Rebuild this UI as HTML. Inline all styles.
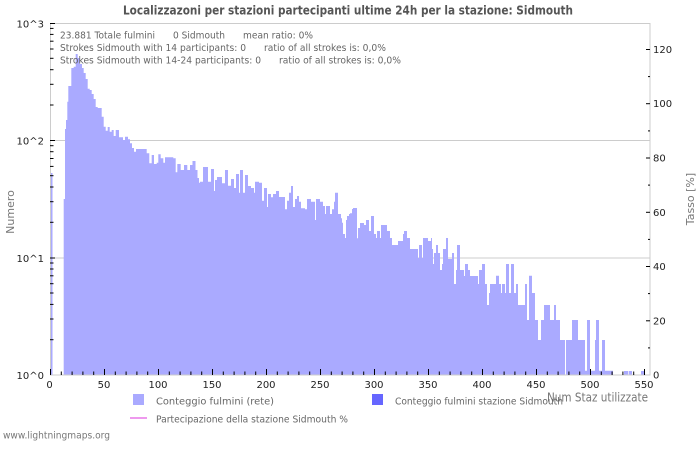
<!DOCTYPE html>
<html>
<head>
<meta charset="utf-8">
<style>
html,body{margin:0;padding:0;background:#fff;}
svg{display:block;}
text{font-family:"DejaVu Sans","Liberation Sans",sans-serif;}
</style>
</head>
<body>
<svg width="700" height="450" viewBox="0 0 700 450" xmlns="http://www.w3.org/2000/svg">
<rect x="0" y="0" width="700" height="450" fill="#fff"/>
<!-- title -->
<text x="348" y="14.5" font-size="12.5" font-weight="bold" fill="#555" text-anchor="middle" textLength="450" lengthAdjust="spacingAndGlyphs">Localizzazoni per stazioni partecipanti ultime 24h per la stazione: Sidmouth</text>

<!-- gridlines -->
<line x1="50" y1="140.5" x2="650" y2="140.5" stroke="#ccc" stroke-width="1"/>
<line x1="50" y1="258" x2="650" y2="258" stroke="#ccc" stroke-width="1"/>

<!-- bars -->
<path fill="#aaaaff" d="M50,375 V173 H52.5 V375 Z
M63.7,375 V199 H65 V129 H66 V120 H67.3 V101.7 H68.3 V86 H71.3 V68 H73.7 V66.7 H75.7 V54 H77.7 V58 H79.7 V64 H82 V68 H83.7 V73 H85.7 V79 H87.7 V88.7 H89.7 V90 H91.7 V94 H93.7 V99 H95.7 V107 H97.7 V108 H101.7 V116.7 H103.7 V126.7 H105.7 V130.7 H107.7 V127 H109.7 V131.7 H111.7 V130 H113.7 V136 H115.7 V130 H119 V137.3 H123 V140 H125 V136.7 H128 V139.3 H130 V143.3 H132 V148 H134 V151.7 H136 V149 H146.7 V153.3 H149.3 V163.3 H151.7 V155 H154 V164 H156.7 V162.7 H158.3 V154.3 H160.7 V158.3 H163.3 V162.7 H165 V157.3 H173.3 V158.3 H175.7 V172.3 H177.3 V164 H180.7 V170 H184 V165 H187.3 V170 H190 V165 H192.5 V161 H195.5 V170 H197.5 V178 H199 V182.7 H200 V181.7 H203 V167 H208 V181.7 H211 V169 H214 V191 H215 V180 H217 V177 H222 V183.3 H225 V170 H228 V185.7 H231 V179 H234 V188 H236 V174 H239 V192.7 H240 V170 H243 V192.7 H245 V175 H248 V186 H251 V188 H254 V192.7 H255 V181.7 H259 V182.7 H262 V200.7 H264 V188 H267 V207 H268 V194 H271 V197.3 H273 V194 H276 V191 H279 V197 H285 V209.3 H287 V200.7 H289 V192.7 H291 V186 H293 V207 H295 V199 H297 V196 H299 V201.7 H301 V208.3 H305 V209.3 H307 V199 H311 V201.7 H315 V220 H316 V199 H320 V201.7 H323 V206 H325 V214 H326 V206 H330 V214 H332 V209.3 H334 V201.7 H335 V192.7 H338 V214 H341 V218.3 H342 V222.7 H343 V234 H345 V238 H346 V220 H347 V216 H349 V214 H350 V213.3 H352 V209 H353 V208 H357 V238.3 H358 V228 H360 V223 H364 V225 H366 V220 H369 V231 H371 V216 H374 V234 H376 V238 H377 V231 H380 V238 H381 V225 H387 V231 H390 V238 H392 V245 H398 V241 H403 V234 H404 V231 H407 V238 H410 V249 H418 V258 H419 V245 H422 V258 H423 V238 H428 V241 H431 V238 H432 V249 H433 V264 H434 V253 H436 V245 H438 V253 H440 V270 H442 V264 H443 V249 H446 V238 H448 V259 H452 V253 H454 V284 H456 V270 H457 V245 H460 V270 H464 V276 H465 V264 H468 V270 H470 V276 H478 V284 H479 V270 H482 V264 H485 V284 H487 V305 H489 V293 H490 V284 H496 V275.7 H499 V284 H501 V293 H502 V284 H505 V293 H506 V264 H509 V293 H511 V264 H514 V293 H516 V284 H518 V305 H525 V284 H527 V320 H529 V275.7 H532 V293 H535 V320 H538 V340 H541 V320 H544 V305 H550 V320 H554 V305 H556 V320 H560 V340 H565 V375 H566 V340 H572 V320 H578 V340 H585 V370.7 H587 V320 H590 V370.7 H595 V340 H596 V320 H599 V370.7 H602 V340 H605 V370.7 H613 V375 Z
M624,375 V371 H628 V375 Z M628.7,375 V371 H632 V375 Z M641,375 V371 H644 V375 Z"/>

<!-- plot border -->
<rect x="50.5" y="23.5" width="599.5" height="351.5" fill="none" stroke="#ccc" stroke-width="1"/>

<!-- left axis ticks -->
<g stroke="#000" stroke-width="1">
<line x1="50" y1="23.5" x2="55" y2="23.5"/>
<line x1="50" y1="140.5" x2="55" y2="140.5"/>
<line x1="50" y1="258" x2="55" y2="258"/>
<line x1="50" y1="28.4" x2="53.5" y2="28.4"/><line x1="50" y1="34.4" x2="53.5" y2="34.4"/><line x1="50" y1="41.2" x2="53.5" y2="41.2"/><line x1="50" y1="49" x2="53.5" y2="49"/><line x1="50" y1="58.3" x2="53.5" y2="58.3"/><line x1="50" y1="69.7" x2="53.5" y2="69.7"/><line x1="50" y1="84.3" x2="53.5" y2="84.3"/><line x1="50" y1="105" x2="53.5" y2="105"/>
<line x1="50" y1="145.7" x2="53.5" y2="145.7"/><line x1="50" y1="151.7" x2="53.5" y2="151.7"/><line x1="50" y1="158.5" x2="53.5" y2="158.5"/><line x1="50" y1="166.4" x2="53.5" y2="166.4"/><line x1="50" y1="175.7" x2="53.5" y2="175.7"/><line x1="50" y1="187" x2="53.5" y2="187"/><line x1="50" y1="201.7" x2="53.5" y2="201.7"/><line x1="50" y1="222.3" x2="53.5" y2="222.3"/>
<line x1="50" y1="263" x2="53.5" y2="263"/><line x1="50" y1="269" x2="53.5" y2="269"/><line x1="50" y1="275.8" x2="53.5" y2="275.8"/><line x1="50" y1="283.7" x2="53.5" y2="283.7"/><line x1="50" y1="293" x2="53.5" y2="293"/><line x1="50" y1="304.4" x2="53.5" y2="304.4"/><line x1="50" y1="319" x2="53.5" y2="319"/><line x1="50" y1="339.7" x2="53.5" y2="339.7"/>
</g>

<!-- right axis ticks -->
<g stroke="#000" stroke-width="1">
<line x1="646" y1="49.5" x2="650" y2="49.5"/><line x1="648" y1="76.6" x2="650" y2="76.6"/>
<line x1="646" y1="103.7" x2="650" y2="103.7"/><line x1="648" y1="130.9" x2="650" y2="130.9"/>
<line x1="646" y1="158" x2="650" y2="158"/><line x1="648" y1="185.1" x2="650" y2="185.1"/>
<line x1="646" y1="212.3" x2="650" y2="212.3"/><line x1="648" y1="239.4" x2="650" y2="239.4"/>
<line x1="646" y1="266.5" x2="650" y2="266.5"/><line x1="648" y1="293.6" x2="650" y2="293.6"/>
<line x1="646" y1="320.8" x2="650" y2="320.8"/><line x1="648" y1="347.9" x2="650" y2="347.9"/>
</g>

<!-- bottom axis ticks -->
<g stroke="#000" stroke-width="1">
<line x1="50.5" y1="369" x2="50.5" y2="375"/>
<line x1="104.5" y1="369" x2="104.5" y2="375"/>
<line x1="158.5" y1="369" x2="158.5" y2="375"/>
<line x1="212.5" y1="369" x2="212.5" y2="375"/>
<line x1="266.5" y1="369" x2="266.5" y2="375"/>
<line x1="320.5" y1="369" x2="320.5" y2="375"/>
<line x1="374.5" y1="369" x2="374.5" y2="375"/>
<line x1="428.5" y1="369" x2="428.5" y2="375"/>
<line x1="482.5" y1="369" x2="482.5" y2="375"/>
<line x1="536.5" y1="369" x2="536.5" y2="375"/>
<line x1="590.5" y1="369" x2="590.5" y2="375"/>
<line x1="644.5" y1="369" x2="644.5" y2="375"/>
<line x1="61.3" y1="371.5" x2="61.3" y2="375"/><line x1="72.1" y1="371.5" x2="72.1" y2="375"/><line x1="82.9" y1="371.5" x2="82.9" y2="375"/><line x1="93.7" y1="371.5" x2="93.7" y2="375"/>
<line x1="115.3" y1="371.5" x2="115.3" y2="375"/><line x1="126.1" y1="371.5" x2="126.1" y2="375"/><line x1="136.9" y1="371.5" x2="136.9" y2="375"/><line x1="147.7" y1="371.5" x2="147.7" y2="375"/>
<line x1="169.3" y1="371.5" x2="169.3" y2="375"/><line x1="180.1" y1="371.5" x2="180.1" y2="375"/><line x1="190.9" y1="371.5" x2="190.9" y2="375"/><line x1="201.7" y1="371.5" x2="201.7" y2="375"/>
<line x1="223.3" y1="371.5" x2="223.3" y2="375"/><line x1="234.1" y1="371.5" x2="234.1" y2="375"/><line x1="244.9" y1="371.5" x2="244.9" y2="375"/><line x1="255.7" y1="371.5" x2="255.7" y2="375"/>
<line x1="277.3" y1="371.5" x2="277.3" y2="375"/><line x1="288.1" y1="371.5" x2="288.1" y2="375"/><line x1="298.9" y1="371.5" x2="298.9" y2="375"/><line x1="309.7" y1="371.5" x2="309.7" y2="375"/>
<line x1="331.3" y1="371.5" x2="331.3" y2="375"/><line x1="342.1" y1="371.5" x2="342.1" y2="375"/><line x1="352.9" y1="371.5" x2="352.9" y2="375"/><line x1="363.7" y1="371.5" x2="363.7" y2="375"/>
<line x1="385.3" y1="371.5" x2="385.3" y2="375"/><line x1="396.1" y1="371.5" x2="396.1" y2="375"/><line x1="406.9" y1="371.5" x2="406.9" y2="375"/><line x1="417.7" y1="371.5" x2="417.7" y2="375"/>
<line x1="439.3" y1="371.5" x2="439.3" y2="375"/><line x1="450.1" y1="371.5" x2="450.1" y2="375"/><line x1="460.9" y1="371.5" x2="460.9" y2="375"/><line x1="471.7" y1="371.5" x2="471.7" y2="375"/>
<line x1="493.3" y1="371.5" x2="493.3" y2="375"/><line x1="504.1" y1="371.5" x2="504.1" y2="375"/><line x1="514.9" y1="371.5" x2="514.9" y2="375"/><line x1="525.7" y1="371.5" x2="525.7" y2="375"/>
<line x1="547.3" y1="371.5" x2="547.3" y2="375"/><line x1="558.1" y1="371.5" x2="558.1" y2="375"/><line x1="568.9" y1="371.5" x2="568.9" y2="375"/><line x1="579.7" y1="371.5" x2="579.7" y2="375"/>
<line x1="601.3" y1="371.5" x2="601.3" y2="375"/><line x1="612.1" y1="371.5" x2="612.1" y2="375"/><line x1="622.9" y1="371.5" x2="622.9" y2="375"/><line x1="633.7" y1="371.5" x2="633.7" y2="375"/>
</g>

<!-- info text -->
<g font-size="10" fill="#666">
<text x="60" y="38.5" textLength="95" lengthAdjust="spacingAndGlyphs">23.881 Totale fulmini</text>
<text x="173" y="38.5" textLength="52" lengthAdjust="spacingAndGlyphs">0 Sidmouth</text>
<text x="243" y="38.5" textLength="70" lengthAdjust="spacingAndGlyphs">mean ratio: 0%</text>
<text x="60" y="51" textLength="186" lengthAdjust="spacingAndGlyphs">Strokes Sidmouth with 14 participants: 0</text>
<text x="264" y="51" textLength="122" lengthAdjust="spacingAndGlyphs">ratio of all strokes is: 0,0%</text>
<text x="60" y="63.5" textLength="201" lengthAdjust="spacingAndGlyphs">Strokes Sidmouth with 14-24 participants: 0</text>
<text x="279" y="63.5" textLength="122" lengthAdjust="spacingAndGlyphs">ratio of all strokes is: 0,0%</text>
</g>

<!-- left tick labels -->
<g font-size="10" fill="#222" text-anchor="end">
<text x="44" y="27.5">10^3</text>
<text x="44" y="144.5">10^2</text>
<text x="44" y="262">10^1</text>
<text x="44" y="379">10^0</text>
</g>

<!-- right tick labels -->
<g font-size="10" fill="#222">
<text x="653" y="53">120</text>
<text x="653" y="107.2">100</text>
<text x="653" y="161.5">80</text>
<text x="653" y="215.8">60</text>
<text x="653" y="270">40</text>
<text x="653" y="324.3">20</text>
<text x="653" y="378.5">0</text>
</g>

<!-- bottom tick labels -->
<g font-size="10" fill="#222" text-anchor="middle">
<text x="49.5" y="388">0</text>
<text x="104" y="388">50</text>
<text x="158" y="388">100</text>
<text x="212" y="388">150</text>
<text x="266" y="388">200</text>
<text x="320" y="388">250</text>
<text x="374" y="388">300</text>
<text x="428" y="388">350</text>
<text x="482" y="388">400</text>
<text x="536" y="388">450</text>
<text x="590" y="388">500</text>
<text x="644" y="388">550</text>
</g>

<!-- axis titles -->
<text transform="translate(14,212) rotate(-90)" font-size="11" fill="#777" text-anchor="middle">Numero</text>
<text transform="translate(694,199) rotate(-90)" font-size="11" fill="#777" text-anchor="middle">Tasso [%]</text>
<text x="547" y="401.5" font-size="12" fill="#777" textLength="101" lengthAdjust="spacingAndGlyphs">Num Staz utilizzate</text>

<!-- legend -->
<rect x="133" y="394" width="11" height="11" fill="#aaaaff"/>
<text x="156" y="404.5" font-size="10" fill="#666" textLength="118" lengthAdjust="spacingAndGlyphs">Conteggio fulmini (rete)</text>
<rect x="372" y="394" width="11" height="11" fill="#6666ff"/>
<text x="395" y="404.5" font-size="10" fill="#666" textLength="168" lengthAdjust="spacingAndGlyphs">Conteggio fulmini stazione Sidmouth</text>
<line x1="130" y1="418" x2="147" y2="418" stroke="#ee99ee" stroke-width="2"/>
<text x="156" y="422.5" font-size="10" fill="#666" textLength="192" lengthAdjust="spacingAndGlyphs">Partecipazione della stazione Sidmouth %</text>

<!-- footer -->
<text x="3" y="438.5" font-size="10" fill="#777" textLength="107" lengthAdjust="spacingAndGlyphs">www.lightningmaps.org</text>
</svg>
</body>
</html>
